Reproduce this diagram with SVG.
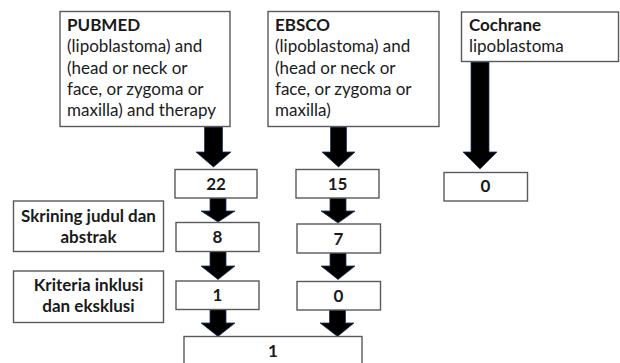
<svg xmlns="http://www.w3.org/2000/svg" width="620" height="363" viewBox="0 0 620 363">
<style>
.box{fill:#fff;stroke:#595959;stroke-width:1.4}
.t{font-family:Lato,"Liberation Sans",sans-serif;font-size:17px;fill:#1a1a1a}
.b{font-weight:bold}
.c{text-anchor:middle}
.arr{fill:#000;stroke:#1f3864;stroke-width:0.8;stroke-linejoin:miter}
</style>
<g id="connectors">
<polygon class="arr" points="204.5,127 222.5,127 222.5,152 231,152 213.5,167 196,152 204.5,152"/>
<polygon class="arr" points="330.5,127 346.5,127 346.5,152 355,152 338.5,167 322,152 330.5,152"/>
<polygon class="arr" points="471,62 489,62 489,152 497,152 480,169 463,152 471,152"/>
<polygon class="arr" points="210,198 226,198 226,211 235,211 218,222 201,211 210,211"/>
<polygon class="arr" points="210,251.5 226,251.5 226,266 235,266 218,279.5 201,266 210,266"/>
<polygon class="arr" points="210,309.5 226,309.5 226,323 235,323 218,336.5 201,323 210,323"/>
<polygon class="arr" points="330,198 346,198 346,211 355,211 338,223 321,211 330,211"/>
<polygon class="arr" points="330,252 346,252 346,266 355,266 338,279.5 321,266 330,266"/>
<polygon class="arr" points="329.5,309.5 345.5,309.5 345.5,323 354,323 337.5,336.5 320,323 329.5,323"/>
</g>
<g id="pubmed">
<rect class="box" x="60" y="11.5" width="170" height="115"/>
<text class="t b" x="67" y="31">PUBMED</text>
<text class="t" x="67" y="52.3">(lipoblastoma) and</text>
<text class="t" x="67" y="73.6">(head or neck or</text>
<text class="t" x="67" y="94.9">face, or zygoma or</text>
<text class="t" x="67" y="116.2">maxilla) and therapy</text>
</g>
<g id="ebsco">
<rect class="box" x="268" y="11.5" width="171" height="115"/>
<text class="t b" x="275" y="31">EBSCO</text>
<text class="t" x="275" y="52.3">(lipoblastoma) and</text>
<text class="t" x="275" y="73.6">(head or neck or</text>
<text class="t" x="275" y="94.9">face, or zygoma or</text>
<text class="t" x="275" y="116.2">maxilla)</text>
</g>
<g id="cochrane">
<rect class="box" x="461.5" y="12" width="157" height="49.5"/>
<text class="t b" x="469" y="31">Cochrane</text>
<text class="t" x="469" y="52.3">lipoblastoma</text>
</g>
<g id="n22">
<rect class="box" x="175" y="169.5" width="82" height="28.5"/>
<text class="t b c" x="216" y="190">22</text>
</g>
<g id="n15">
<rect class="box" x="296" y="169.5" width="83" height="28.5"/>
<text class="t b c" x="337.5" y="190">15</text>
</g>
<g id="n0c">
<rect class="box" x="444" y="172.5" width="83.5" height="28.5"/>
<text class="t b c" x="485.5" y="192">0</text>
</g>
<g id="skrining">
<rect class="box" x="13.5" y="201" width="150" height="50.5"/>
<text class="t b c" x="88.5" y="221.5">Skrining judul dan</text>
<text class="t b c" x="88.5" y="242.5">abstrak</text>
</g>
<g id="n8">
<rect class="box" x="176" y="222.5" width="83" height="29"/>
<text class="t b c" x="217.5" y="242.5">8</text>
</g>
<g id="n7">
<rect class="box" x="297" y="224" width="83.5" height="29"/>
<text class="t b c" x="338.5" y="244.5">7</text>
</g>
<g id="kriteria">
<rect class="box" x="13.5" y="271" width="150" height="51.5"/>
<text class="t b c" x="88.5" y="290.5">Kriteria inklusi</text>
<text class="t b c" x="88.5" y="311.5">dan eksklusi</text>
</g>
<g id="n1">
<rect class="box" x="176" y="281" width="83" height="28.5"/>
<text class="t b c" x="217.5" y="300.5">1</text>
</g>
<g id="n0e">
<rect class="box" x="297" y="281.5" width="83.5" height="28.5"/>
<text class="t b c" x="338.5" y="301.5">0</text>
</g>
<g id="final">
<rect class="box" x="184" y="336.5" width="178" height="40"/>
<text class="t b c" x="273" y="356.5">1</text>
</g>
</svg>
